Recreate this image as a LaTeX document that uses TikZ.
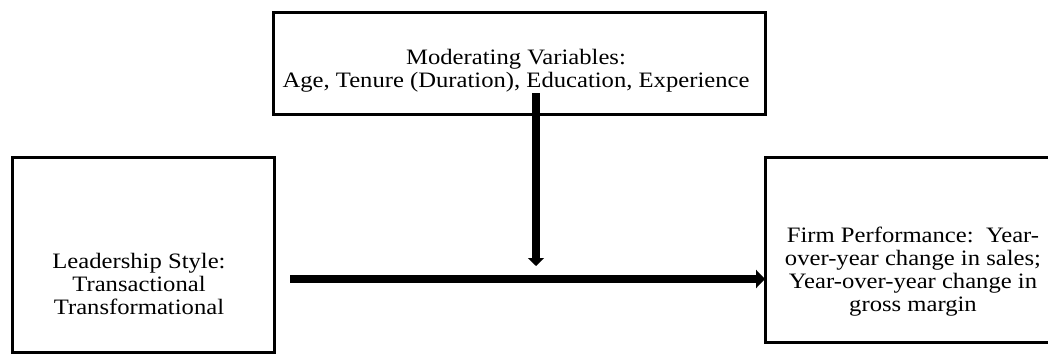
\documentclass[tikz,border=0pt]{standalone}
\usepackage{fontspec}
\setmainfont{Liberation Serif}[FakeStretch=1.12]
\usetikzlibrary{arrows.meta}
\begin{document}
\begin{tikzpicture}[x=1pt,y=-1pt,
  box/.style={draw=black, line width=3pt, inner sep=0pt, outer sep=0pt},
  label/.style={align=center, inner sep=0pt, font=\fontsize{22}{23}\selectfont},
  bigarrow/.style={line width=8pt, -{Triangle[length=9pt,width=18pt]}},
  downarrow/.style={line width=8pt, -{Triangle[length=8pt,width=16pt]}}]
\useasboundingbox (0,0) rectangle (1048,354);
\fill[white] (0,0) rectangle (1048,354);
% boxes
\node[box, minimum width=492pt, minimum height=102pt] (mod) at (519,63) {};
\node[box, minimum width=262pt, minimum height=195pt] (lead) at (143,254.5) {};
\node[box, minimum width=296pt, minimum height=185pt] (perf) at (913,249.5) {};
% texts
\node[label] (modtext) at (516,71) {Moderating Variables:\\Age, Tenure (Duration), Education, Experience};
\node[label] (leadtext) at (139,284) {Leadership Style:\\Transactional\\Transformational};
\node[label] (perftext) at (913,272) {Firm Performance:\ \ Year-\\over-year change in sales;\\Year-over-year change in\\gross margin};
% arrows
\coordinate (hs) at (290,279);
\coordinate (vs) at (536,93);
\coordinate (ve) at (536,266);
\draw[bigarrow] (hs) -- (hs -| perf.west);
\draw[downarrow] (vs) -- (ve);
\end{tikzpicture}
\end{document}
